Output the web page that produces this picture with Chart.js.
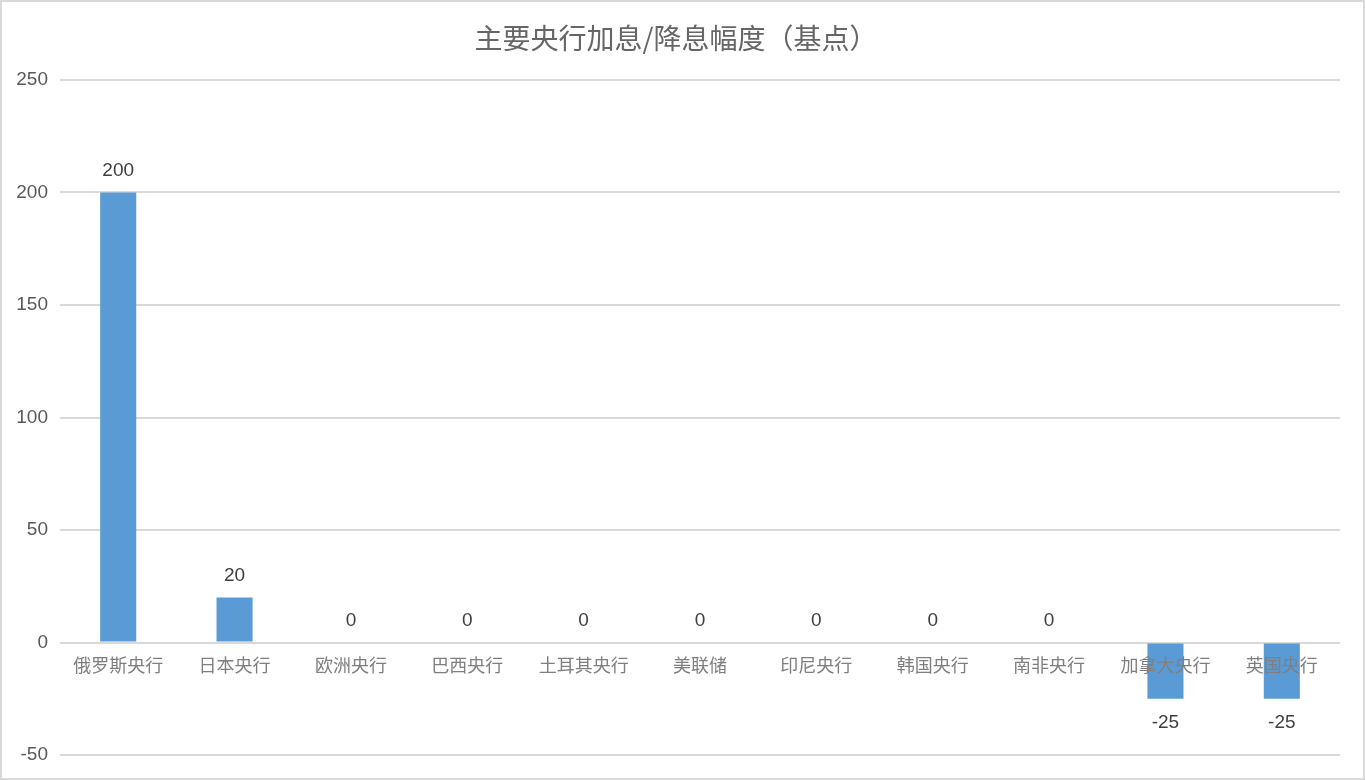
<!DOCTYPE html>
<html>
<head>
<meta charset="utf-8">
<script src="https://cdn.jsdelivr.net/npm/chart.js@4"></script>
<style>
  html, body { margin: 0; padding: 0; background: #fff; }
  #wrap { width: 1365px; height: 780px; position: relative; }
</style>
</head>
<body>
<div id="wrap"><canvas id="rateChart"></canvas></div>
<script>
const chartTitle = '主要央行加息/降息幅度（基点）';
const banks = ['俄罗斯央行', '日本央行', '欧洲央行', '巴西央行', '土耳其央行', '美联储',
  '印尼央行', '韩国央行', '南非央行', '加拿大央行', '英国央行'];
const changeBp = [200, 20, 0, 0, 0, 0, 0, 0, 0, -25, -25];
const yMin = -50;
const yMax = 250;
const yStep = 50;

const cjk = '"Noto Sans CJK SC", "Noto Sans", sans-serif';
const latin = '"Liberation Sans", Arial, sans-serif';

// frame + title
const framePlugin = {
  id: 'frame',
  beforeDraw(chart) {
    const c = chart.ctx;
    c.save();
    c.fillStyle = '#fff';
    c.fillRect(0, 0, chart.width, chart.height);
    c.strokeStyle = '#d9d9d9';
    c.lineWidth = 2;
    c.strokeRect(1, 1, chart.width - 2, chart.height - 2);
    c.restore();
  },
  afterDraw(chart) {
    const c = chart.ctx;
    c.save();
    c.fillStyle = '#666666';
    c.font = '28px ' + cjk;
    c.textAlign = 'center';
    c.textBaseline = 'middle';
    c.fillText(chartTitle, 676, 38);
    c.restore();
  }
};

// value labels above / below bars
const valueLabels = {
  id: 'valueLabels',
  afterDatasetsDraw(chart) {
    const c = chart.ctx;
    const meta = chart.getDatasetMeta(0);
    c.save();
    c.fillStyle = '#404040';
    c.font = '19px ' + latin;
    c.textAlign = 'center';
    c.textBaseline = 'middle';
    meta.data.forEach((bar, i) => {
      const v = changeBp[i];
      const y = v < 0 ? bar.y + 24 : bar.y - 22;
      c.fillText(String(v), bar.x, y);
    });
    c.restore();
  }
};

new Chart(document.getElementById('rateChart'), {
  type: 'bar',
  data: {
    labels: banks,
    datasets: [{
      data: changeBp,
      backgroundColor: '#5b9bd5',
      barPercentage: 0.31,
      categoryPercentage: 1.0
    }]
  },
  options: {
    responsive: true,
    maintainAspectRatio: false,
    animation: false,
    layout: { padding: { top: 80, right: 25, bottom: 25, left: 0 } },
    plugins: {
      legend: { display: false },
      tooltip: { enabled: false }
    },
    scales: {
      x: {
        position: { y: 0 },
        grid: { display: false },
        border: { display: false },
        ticks: {
          z: 1,
          color: '#7f7f7f',
          font: { family: cjk, size: 18 },
          padding: 4,
          maxRotation: 0,
          autoSkip: false
        }
      },
      y: {
        min: yMin,
        max: yMax,
        grid: { color: '#d9d9d9', lineWidth: 2, drawTicks: false },
        border: { display: false },
        ticks: {
          stepSize: yStep,
          color: '#595959',
          font: { family: latin, size: 19 },
          padding: 12
        },
        afterFit(scale) { scale.width = 60; }
      }
    }
  },
  plugins: [framePlugin, valueLabels]
});
</script>
</body>
</html>
